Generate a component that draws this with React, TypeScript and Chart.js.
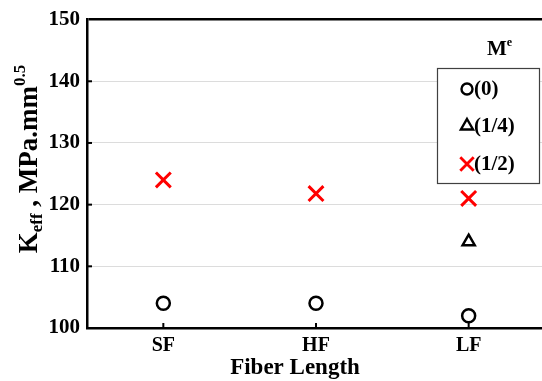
import React, { useEffect, useRef } from "react";
import { Chart, registerables } from "chart.js";

Chart.register(...registerables);

const categories = ["SF", "HF", "LF"];
const seriesLabels = ["(0)", "(1/4)", "(1/2)"];
const m0 = [104, 104, 102];
const mQuarter = [null, null, 114];
const mHalf = [124, 121.8, 121];
const yTickValues = [100, 110, 120, 130, 140, 150];
const xTitle = "Fiber Length";
const yTitleParts = [
  { t: "K", sub: 0 },
  { t: "eff", sub: 1 },
  { t: " , MPa.mm", sub: 0 },
  { t: "0.5", sub: -1 },
];
const legendTitle = "M";
const legendTitleSup = "e";

const FONT = "'Liberation Serif', 'Times New Roman', serif";

function drawMarker(ctx: CanvasRenderingContext2D, style: string, x: number, y: number, r: number, color: string, lw: number) {
  ctx.save();
  ctx.strokeStyle = color;
  ctx.lineWidth = lw;
  ctx.beginPath();
  if (style === "circle") {
    ctx.arc(x, y, r, 0, Math.PI * 2);
  } else if (style === "triangle") {
    ctx.moveTo(x, y - r);
    ctx.lineTo(x + r * 0.87, y + r * 0.5);
    ctx.lineTo(x - r * 0.87, y + r * 0.5);
    ctx.closePath();
  } else {
    const d = r * 0.707;
    ctx.moveTo(x - d, y - d);
    ctx.lineTo(x + d, y + d);
    ctx.moveTo(x + d, y - d);
    ctx.lineTo(x - d, y + d);
  }
  ctx.stroke();
  ctx.restore();
}

const decorPlugin = {
  id: "decor",
  beforeDatasetsDraw(chart: any) {
    const ctx = chart.ctx as CanvasRenderingContext2D;
    const { left, bottom } = chart.chartArea;
    const xs = chart.scales.x;
    const ys = chart.scales.y;
    ctx.save();
    ctx.strokeStyle = "#000";
    ctx.lineWidth = 2;
    yTickValues.slice(1, -1).forEach((v) => {
      const y = ys.getPixelForValue(v);
      ctx.beginPath();
      ctx.moveTo(left, y);
      ctx.lineTo(left + 5, y);
      ctx.stroke();
    });
    categories.forEach((_c, i) => {
      const x = xs.getPixelForValue(i);
      ctx.beginPath();
      ctx.moveTo(x, bottom);
      ctx.lineTo(x, bottom - 5);
      ctx.stroke();
    });
    ctx.restore();
  },
  afterDraw(chart: any) {
    const ctx = chart.ctx as CanvasRenderingContext2D;
    ctx.save();
    ctx.fillStyle = "#000";

    // x title
    ctx.font = `bold 23px ${FONT}`;
    ctx.textAlign = "center";
    ctx.textBaseline = "alphabetic";
    ctx.fillText(xTitle, 295, 374);

    // y title (rotated, with sub/superscript)
    const big = 27;
    const small = 17;
    ctx.save();
    ctx.translate(37, 159);
    ctx.rotate(-Math.PI / 2);
    ctx.textAlign = "left";
    let total = 0;
    yTitleParts.forEach((p) => {
      ctx.font = `bold ${p.sub ? small : big}px ${FONT}`;
      total += ctx.measureText(p.t).width;
    });
    let x = -total / 2;
    yTitleParts.forEach((p) => {
      ctx.font = `bold ${p.sub ? small : big}px ${FONT}`;
      const dy = p.sub === 1 ? 5 : p.sub === -1 ? -12 : 0;
      ctx.fillText(p.t, x, dy);
      x += ctx.measureText(p.t).width;
    });
    ctx.restore();

    // legend
    const bx = 437.5, by = 68.5, bw = 102, bh = 115;
    ctx.fillStyle = "#fff";
    ctx.fillRect(bx, by, bw, bh);
    ctx.strokeStyle = "#404040";
    ctx.lineWidth = 1.2;
    ctx.strokeRect(bx, by, bw, bh);

    ctx.fillStyle = "#000";
    ctx.textAlign = "left";
    ctx.font = `bold 21px ${FONT}`;
    ctx.fillText(legendTitle, 487, 55);
    const mw = ctx.measureText(legendTitle).width;
    ctx.font = `bold 12px ${FONT}`;
    ctx.fillText(legendTitleSup, 487 + mw, 46);

    const items = chart.data.datasets;
    const ys = [89, 126, 164];
    items.forEach((ds: any, i: number) => {
      const style = ds.pointStyle;
      const color = ds.pointBorderColor;
      const r = style === "circle" ? 5.5 : style === "triangle" ? 7 : 9.5;
      drawMarker(ctx, style, 467, ys[i], r, color, style === "crossRot" ? 2.8 : 2.4);
      ctx.fillStyle = "#000";
      ctx.font = `bold 21px ${FONT}`;
      ctx.textBaseline = "middle";
      ctx.fillText(ds.label, 474, ys[i] + 1);
    });
    ctx.restore();
  },
};

export default function App() {
  const ref = useRef<HTMLCanvasElement>(null);
  useEffect(() => {
    if (!ref.current) return;
    const chart = new Chart(ref.current, {
      type: "line",
      data: {
        labels: categories,
        datasets: [
          {
            label: seriesLabels[0],
            data: m0,
            showLine: false,
            pointStyle: "circle",
            pointRadius: 6.5,
            pointBorderWidth: 2.5,
            pointBorderColor: "#000",
            pointBackgroundColor: "rgba(0,0,0,0)",
          },
          {
            label: seriesLabels[1],
            data: mQuarter,
            showLine: false,
            pointStyle: "triangle",
            pointRadius: 7,
            pointBorderWidth: 2.5,
            pointBorderColor: "#000",
            pointBackgroundColor: "rgba(0,0,0,0)",
          },
          {
            label: seriesLabels[2],
            data: mHalf,
            showLine: false,
            pointStyle: "crossRot",
            pointRadius: 10.5,
            pointBorderWidth: 3,
            pointBorderColor: "#ff0000",
            pointBackgroundColor: "#ff0000",
          },
        ] as any,
      },
      options: {
        animation: false,
        responsive: false,
        devicePixelRatio: 1,
        events: [],
        layout: { autoPadding: false, padding: { top: 18, right: 3, left: 0, bottom: 0 } },
        plugins: { legend: { display: false }, tooltip: { enabled: false } },
        scales: {
          x: {
            offset: true,
            grid: { display: false, drawTicks: false, offset: true },
            border: { display: true, color: "#000", width: 2.5 },
            ticks: { font: { family: FONT, size: 20, weight: "bold" }, color: "#000", padding: 6 },
            afterFit: (s: any) => {
              s.height = 53;
            },
          },
          y: {
            min: 100,
            max: 150,
            grid: {
              drawTicks: false,
              color: (c: any) => (c.tick && c.tick.value === 150 ? "#000" : "#dcdcdc"),
              lineWidth: (c: any) => (c.tick && c.tick.value === 150 ? 2.5 : 1),
            },
            border: { display: true, color: "#000", width: 2.5 },
            ticks: {
              stepSize: 10,
              font: { family: FONT, size: 21, weight: "bold" },
              color: "#000",
              padding: 7,
            },
            afterFit: (s: any) => {
              s.width = 87;
            },
          },
        },
      } as any,
      plugins: [decorPlugin],
    });
    return () => chart.destroy();
  }, []);
  return (
    <div
      style={{
        position: "fixed",
        left: 0,
        top: 0,
        width: 542,
        height: 381,
        overflow: "hidden",
        background: "#fff",
      }}
    >
      <canvas ref={ref} width={548} height={381} style={{ display: "block" }} />
    </div>
  );
}
